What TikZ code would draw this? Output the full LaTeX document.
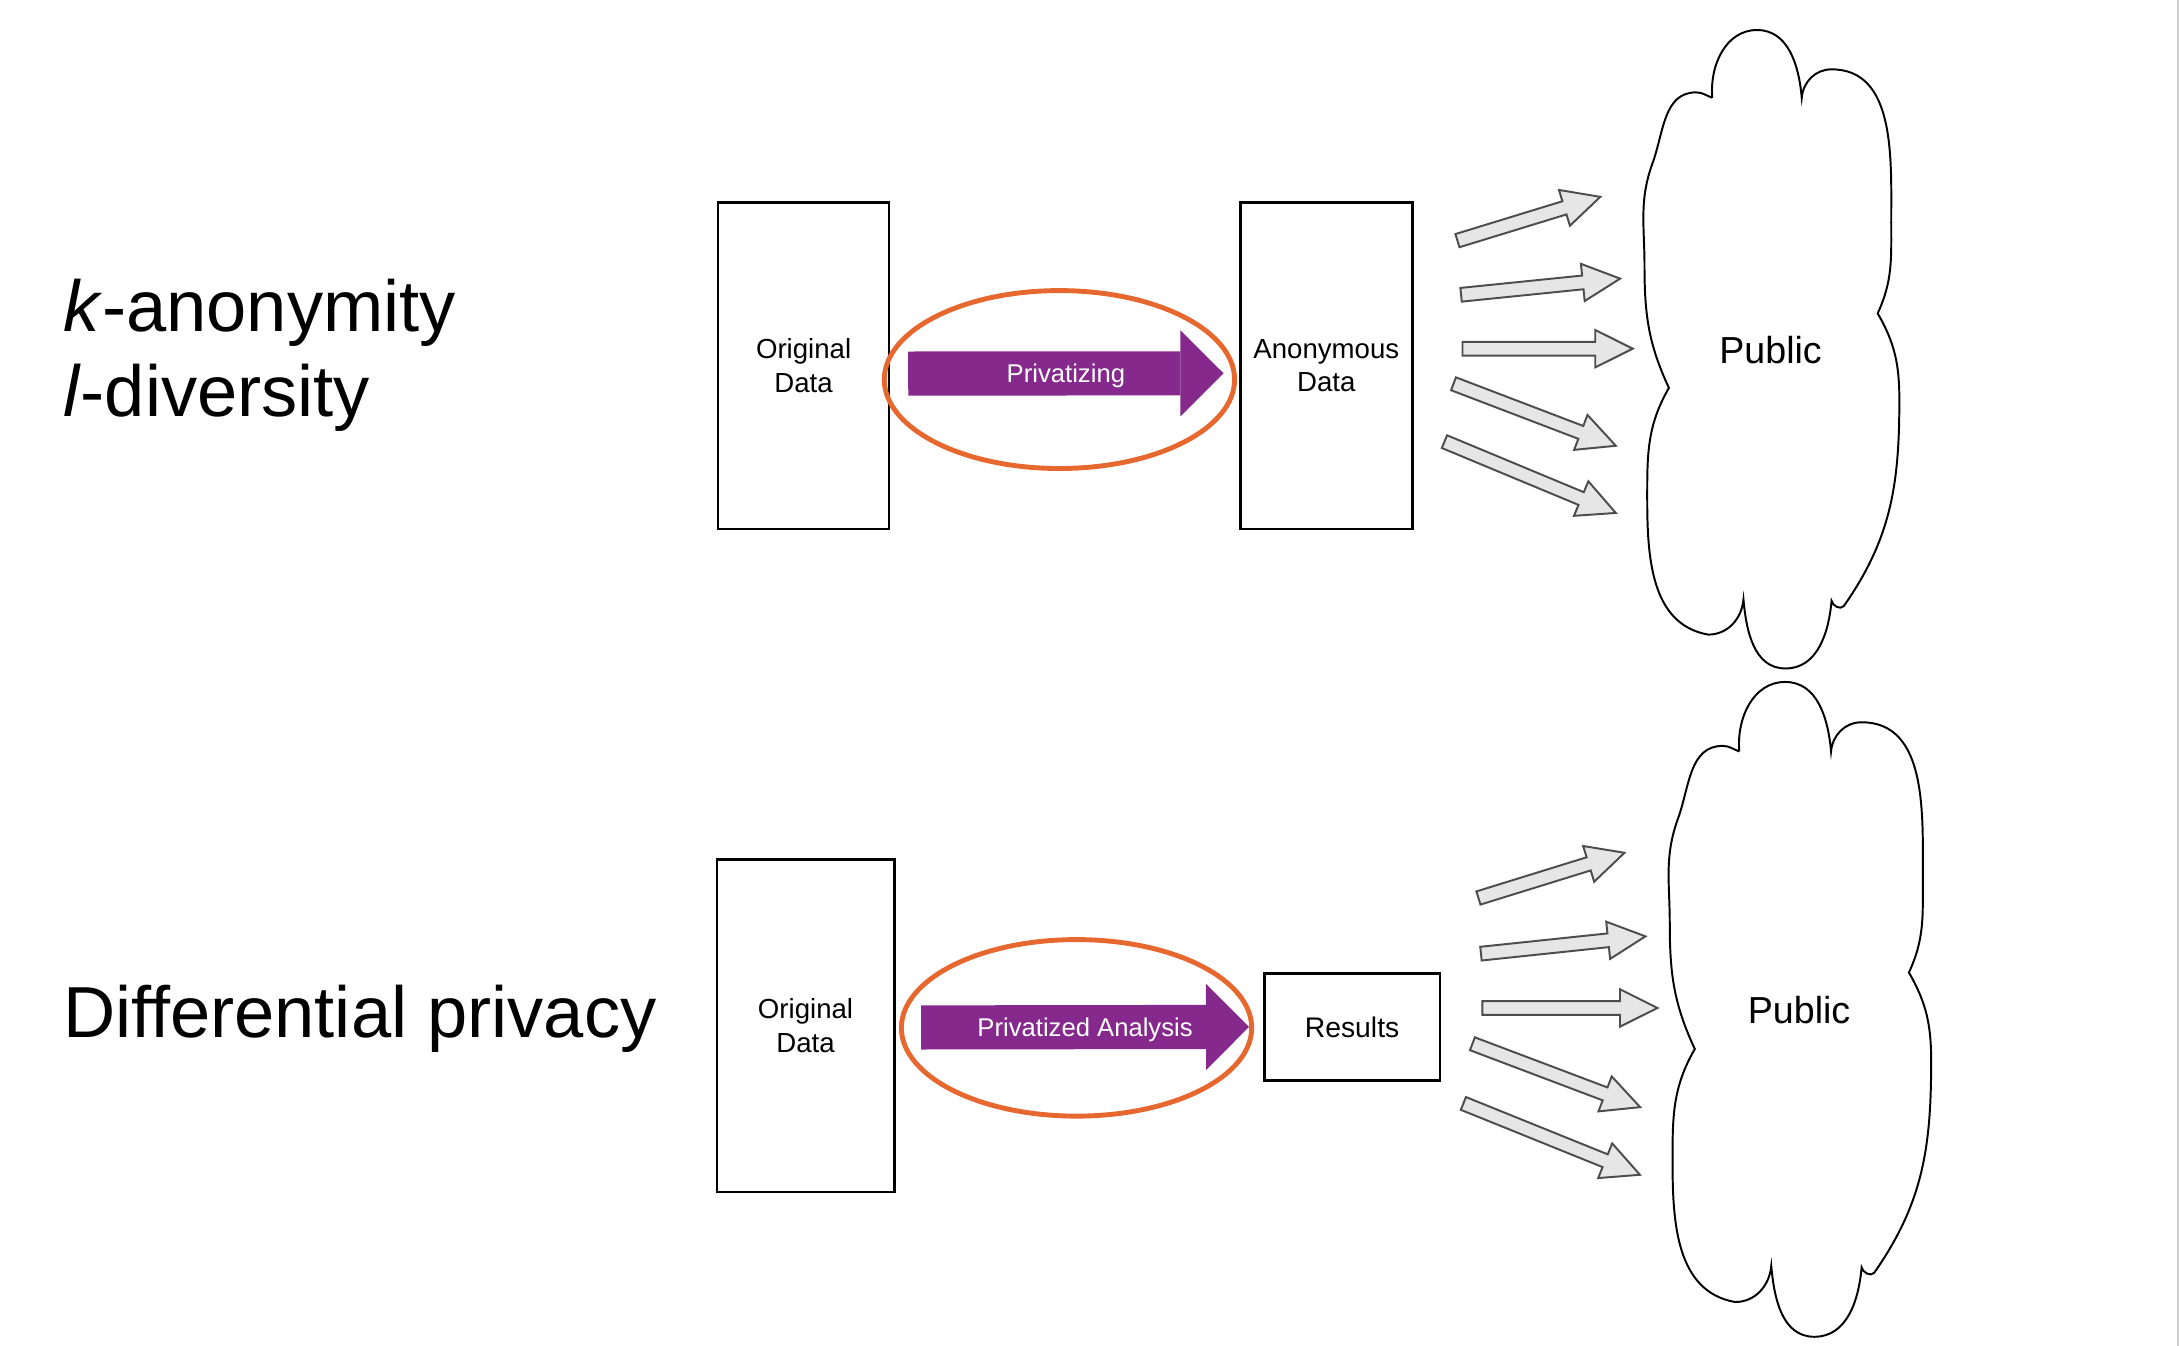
\documentclass[tikz,border=0pt]{standalone}
\usepackage{fontspec}
\setmainfont{Liberation Sans}
\usetikzlibrary{calc,positioning,arrows.meta,shapes.arrows}
\definecolor{privpurple}{RGB}{134,41,140}
\definecolor{ringorange}{RGB}{230,104,46}
\definecolor{arrowfill}{RGB}{230,230,230}
\definecolor{arrowedge}{RGB}{77,77,77}
\tikzstyle{bigtext}=[inner sep=0pt,font=\fontsize{29.6}{34}\selectfont]
\tikzstyle{databox}=[draw,line width=1.1pt,align=center,font=\fontsize{11.3}{13.7}\selectfont]
\tikzstyle{ring}=[draw=ringorange,line width=2pt]
\tikzstyle{privarrow}=[draw=privpurple,line width=0.635cm,-{Triangle[width=1.24cm,length=0.62cm,line width=0pt]}]
\tikzstyle{arrowtext}=[text=white,inner sep=0pt,anchor=base,yshift=-3.7pt,font=\fontsize{10.5}{12}\selectfont]
\tikzstyle{grayarrow}=[single arrow,draw=arrowedge,fill=arrowfill,line width=0.8pt,inner xsep=0pt,inner ysep=0.085cm,minimum width=0.51cm,single arrow head extend=0.17cm,single arrow tip angle=53,anchor=tail]
\tikzstyle{cloudline}=[draw,fill=white,line width=0.8pt]
\tikzstyle{cloudtext}=[font=\fontsize{15.4}{18}\selectfont]
\tikzset{pics/publiccloud/.style={code={
  \draw[cloudline] (-43,186) to[out=160,in=0] (-55,190) to[out=180,in=70] (-87,138)
    to[out=250,in=90] (-93,62) to[out=270,in=115] (-75,-28)
    to[out=240,in=90] (-91,-109) to[out=270,in=170] (-46,-210)
    to[out=0,in=265] (-20,-184) to[out=275,in=180] (11,-235)
    to[out=0,in=265] (45,-185) to[out=280,in=230] (54,-189)
    to[out=55,in=270] (95,-37) to[out=90,in=300] (79,27)
    to[out=65,in=270] (89,94) to[out=90,in=0] (45,207)
    to[out=180,in=85] (23,186) to[out=95,in=0] (-10,236)
    to[out=180,in=95] (-43,186);
}}}

\begin{document}
\begin{tikzpicture}[x=0.02cm,y=0.02cm]
\useasboundingbox (0,0) rectangle (1568,968);
% left labels
\node[bigtext,anchor=base west] (kanon) at (45,729.9) {\textit{k}-anonymity};
\node[bigtext,anchor=base west] (ldiv) at (45,668.2) {\textit{l}-diversity};
\node[bigtext,anchor=base west] (dp) at (45,221.5) {Differential privacy};
% upper row
\node[databox,minimum width=2.46cm,minimum height=4.70cm] (orig1) at (578,705) {Original\\Data};
\node[databox,minimum width=2.48cm,minimum height=4.70cm] (anon) at (954,705) {Anonymous\\Data};
\draw[ring] (762,695) ellipse (2.52cm and 1.28cm);
\draw[privarrow] ($(orig1.east)+(12.8,-5.7)$) -- ($(anon.west)+(-11,-5.5)$) node[arrowtext,midway] (privtxt1) {Privatizing};
\node[grayarrow,minimum height=2.15cm,rotate=17.05] (up1) at (1047.6,794.7) {};
\node[grayarrow,minimum height=2.30cm,rotate=5.8] (up2) at (1050.2,755.9) {};
\node[grayarrow,minimum height=2.45cm,rotate=0] (up3) at (1051.2,717.2) {};
\node[grayarrow,minimum height=2.50cm,rotate=-20.9] (up4) at (1044.8,692.2) {};
\node[grayarrow,minimum height=2.67cm,rotate=-22.6] (up5) at (1038.3,650.6) {};
\pic[scale=0.975] at (1273.5,716.3) {publiccloud};
\node[cloudtext] (pub1) at (1273.5,716.3) {Public};
% lower row
\node[databox,minimum width=2.55cm,minimum height=4.79cm] (orig2) at (579.4,230.3) {Original\\Data};
\node[databox,font=\fontsize{11.6}{14}\selectfont,minimum width=2.53cm,minimum height=1.54cm] (res) at (972.5,229.4) {Results};
\draw[ring] (774.3,228.7) ellipse (2.52cm and 1.27cm);
\draw[privarrow] ($(orig2.east)+(18.4,-1.3)$) -- ($(res.west)+(-9.9,0)$) node[arrowtext,midway] (privtxt2) {Privatized Analysis};
\node[grayarrow,minimum height=2.20cm,rotate=17.2] (lo1) at (1062.7,321.9) {};
\node[grayarrow,minimum height=2.38cm,rotate=6.0] (lo2) at (1064.5,282) {};
\node[grayarrow,minimum height=2.52cm,rotate=0] (lo3) at (1065.5,243) {};
\node[grayarrow,minimum height=2.58cm,rotate=-20.7] (lo4) at (1058.4,217.5) {};
\node[grayarrow,minimum height=2.74cm,rotate=-22.0] (lo5) at (1051.9,174.6) {};
\pic at (1294,241.5) {publiccloud};
\node[cloudtext] (pub2) at (1294,241.5) {Public};
% slide edge
\draw[gray!35,line width=0.04cm] (1566.5,0) -- (1566.5,968);
\end{tikzpicture}
\end{document}
